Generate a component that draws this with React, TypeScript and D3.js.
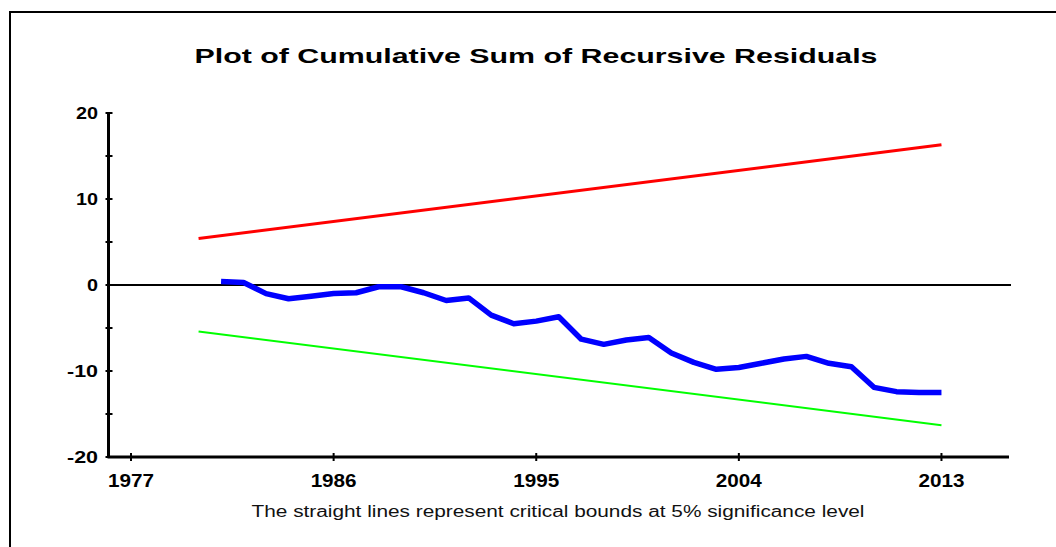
import { useEffect, useRef } from 'react';
import * as d3 from 'd3';

// cusum values, one per year
const years = [1981, 1982, 1983, 1984, 1985, 1986, 1987, 1988, 1989, 1990, 1991, 1992, 1993, 1994, 1995, 1996, 1997,
  1998, 1999, 2000, 2001, 2002, 2003, 2004, 2005, 2006, 2007, 2008, 2009, 2010, 2011, 2012, 2013];
const cusum = [0.4, 0.3, -1.0, -1.6, -1.3, -1.0, -0.9, -0.2, -0.2, -0.9, -1.8, -1.5, -3.5, -4.5, -4.2, -3.7, -6.3,
  -6.9, -6.4, -6.1, -7.9, -9.0, -9.8, -9.6, -9.1, -8.6, -8.3, -9.1, -9.5, -11.9, -12.4, -12.5, -12.5];

// critical bounds (straight lines), endpoints only
const boundYears = [1980, 2013];
const upperBound = [5.4, 16.3];
const lowerBound = [-5.4, -16.3];

const xTickLabels = [1977, 1986, 1995, 2004, 2013];
const yTicks = [-20, -15, -10, -5, 0, 5, 10, 15, 20];
const yLabels = [-20, -10, 0, 10, 20];

const title = 'Plot of Cumulative Sum of Recursive Residuals';
const note = 'The straight lines represent critical bounds at 5% significance level';

function App() {
  const svgRef = useRef<SVGSVGElement>(null);

  useEffect(() => {
    const svg = d3.select(svgRef.current);
    svg.selectAll('*').remove();
    const font = '"Liberation Sans", Arial, sans-serif';

    const x = d3.scaleLinear().domain([1976, 2016]).range([108.5, 1009]);
    const y = d3.scaleLinear().domain([-20, 20]).range([457, 113]);

    svg.append('rect').attr('width', 1056).attr('height', 547).attr('fill', 'white');

    // frame (cut off at right and bottom)
    svg.append('path')
      .attr('d', 'M10,560 L10,12 L1070,12')
      .attr('fill', 'none')
      .attr('stroke', 'black')
      .attr('stroke-width', 2);

    // the original is stretched sideways, so glyphs get stretched too
    svg.append('text')
      .attr('x', 536).attr('y', 63)
      .attr('text-anchor', 'middle')
      .attr('font-family', font)
      .attr('font-weight', 'bold')
      .attr('font-size', 21)
      .attr('textLength', 683)
      .attr('lengthAdjust', 'spacingAndGlyphs')
      .text(title);

    // zero line
    svg.append('line')
      .attr('x1', x(1976)).attr('x2', 1011)
      .attr('y1', y(0)).attr('y2', y(0))
      .attr('stroke', 'black').attr('stroke-width', 2);

    // axes
    svg.append('line')
      .attr('x1', x(1976)).attr('x2', x(1976))
      .attr('y1', y(20)).attr('y2', y(-20) + 1)
      .attr('stroke', 'black').attr('stroke-width', 3);
    svg.append('line')
      .attr('x1', x(1976) - 1).attr('x2', x(2016))
      .attr('y1', y(-20)).attr('y2', y(-20))
      .attr('stroke', 'black').attr('stroke-width', 3);

    svg.selectAll('.ytick').data(yTicks).enter().append('line')
      .attr('x1', x(1976) - 3).attr('x2', x(1976) + 4)
      .attr('y1', d => y(d)).attr('y2', d => y(d))
      .attr('stroke', 'black').attr('stroke-width', 2);

    svg.selectAll('.ylab').data(yLabels).enter().append('text')
      .attr('x', 98).attr('y', d => y(d) + 6)
      .attr('text-anchor', 'end')
      .attr('font-family', font)
      .attr('font-weight', 'bold')
      .attr('font-size', 16)
      .attr('textLength', d => String(Math.abs(d)).length * 11 + (d < 0 ? 9 : 0))
      .attr('lengthAdjust', 'spacingAndGlyphs')
      .text(d => String(d));

    svg.selectAll('.xtick').data(xTickLabels).enter().append('line')
      .attr('x1', d => x(d)).attr('x2', d => x(d))
      .attr('y1', y(-20) - 4).attr('y2', y(-20) + 4)
      .attr('stroke', 'black').attr('stroke-width', 2);

    svg.selectAll('.xlab').data(xTickLabels).enter().append('text')
      .attr('x', d => x(d)).attr('y', 487)
      .attr('text-anchor', 'middle')
      .attr('font-family', font)
      .attr('font-weight', 'bold')
      .attr('font-size', 18)
      .attr('textLength', 46)
      .attr('lengthAdjust', 'spacingAndGlyphs')
      .text(d => String(d));

    const line = d3.line<[number, number]>()
      .x(d => x(d[0]))
      .y(d => y(d[1]));

    svg.append('path')
      .attr('d', line(boundYears.map((yr, i) => [yr, upperBound[i]])))
      .attr('fill', 'none').attr('stroke', '#ff0000').attr('stroke-width', 3);

    svg.append('path')
      .attr('d', line(boundYears.map((yr, i) => [yr, lowerBound[i]])))
      .attr('fill', 'none').attr('stroke', '#00ff00').attr('stroke-width', 2);

    svg.append('path')
      .attr('d', line(years.map((yr, i) => [yr, cusum[i]])))
      .attr('fill', 'none').attr('stroke', '#0000ff').attr('stroke-width', 5.5)
      .attr('stroke-linejoin', 'round');

    svg.append('text')
      .attr('x', 558).attr('y', 517)
      .attr('text-anchor', 'middle')
      .attr('font-family', font)
      .attr('font-size', 16)
      .attr('textLength', 613)
      .attr('lengthAdjust', 'spacingAndGlyphs')
      .attr('fill', '#111')
      .text(note);
  }, []);

  return (
    <svg ref={svgRef} width={1056} height={547}
      style={{ position: 'absolute', left: 0, top: 0, display: 'block' }} />
  );
}

export default App;
